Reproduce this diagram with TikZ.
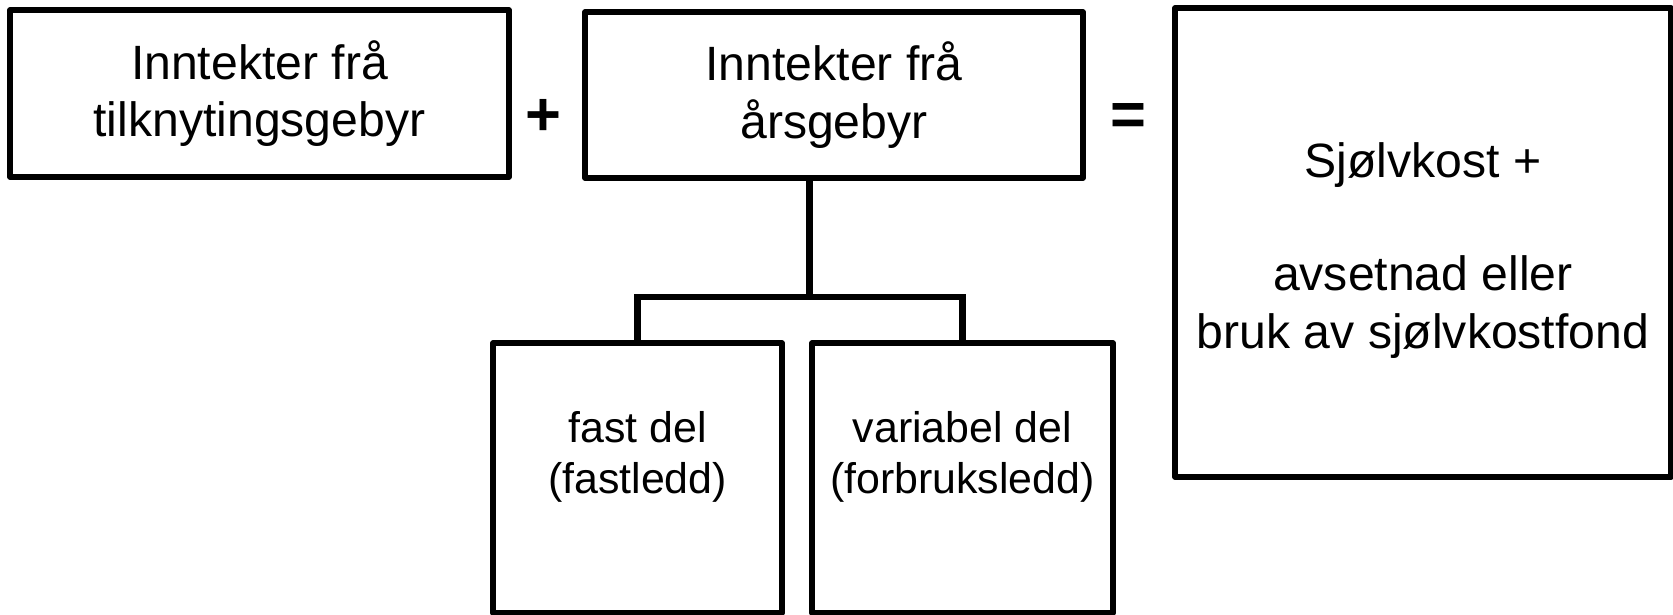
\documentclass[tikz,border=0pt]{standalone}
\usepackage{fontspec}
\setmainfont{Liberation Sans}
\usepackage{xcolor}

\begin{document}
\begin{tikzpicture}[
		box/.style={draw=black,line width=1.55pt,line join=round,inner sep=0pt,align=center,
			font=\fontsize{13.7}{16.4}\selectfont},
		boxtext/.style={align=center,inner sep=0pt,font=\fontsize{13.7}{16.5}\selectfont},
		partbox/.style={draw=black,line width=1.55pt,line join=round,inner sep=0pt},
		parttext/.style={align=center,inner sep=0pt,font=\fontsize{12.2}{14.5}\selectfont},
		sign/.style={inner sep=0pt,font=\fontsize{17.5}{20}\selectfont\bfseries},
		link/.style={draw=black,line width=1.85pt}]
		\useasboundingbox [fill=white] (0,0) rectangle (16.73,-6.15);
		% top row
		\node [box,minimum width=4.99cm,minimum height=1.67cm] (tilknyting) at (2.595,-0.935) {Inntekter frå\\tilknytingsgebyr};
		\node [sign] (pluss) at (5.43,-1.17) {+};
		\node [box,minimum width=4.98cm,minimum height=1.66cm] (aars) at (8.34,-0.95) {Inntekter frå\\årsgebyr};
		\node [sign] (lik) at (11.28,-1.2) {=};
		\node [partbox,minimum width=4.96cm,minimum height=4.69cm] (sjolvkost) at (14.23,-2.425) {};
		\node [boxtext] (sjolvkosttekst) at ([yshift=-0.08cm]sjolvkost.center) {Sjølvkost +\\[15.6pt]avsetnad eller\\bruk av sjølvkostfond};
		% the two parts of the annual fee
		\node [partbox,minimum width=2.89cm,minimum height=2.70cm] (fast) at (6.375,-4.78) {};
		\node [parttext] (fasttekst) at ([yshift=0.21cm]fast.center) {fast del\\(fastledd)};
		\node [partbox,minimum width=3.01cm,minimum height=2.70cm] (variabel) at (9.625,-4.78) {};
		\node [parttext] (variabeltekst) at ([yshift=0.21cm]variabel.center) {variabel del\\(forbruksledd)};
		%
		\coordinate (deling) at (variabel.north west |- 0,-2.97);
		\draw [link] (aars.south -| deling) -- (deling);
		\draw [link] (fast.north) |- (deling) -| (variabel.north);
	\end{tikzpicture}
\end{document}
